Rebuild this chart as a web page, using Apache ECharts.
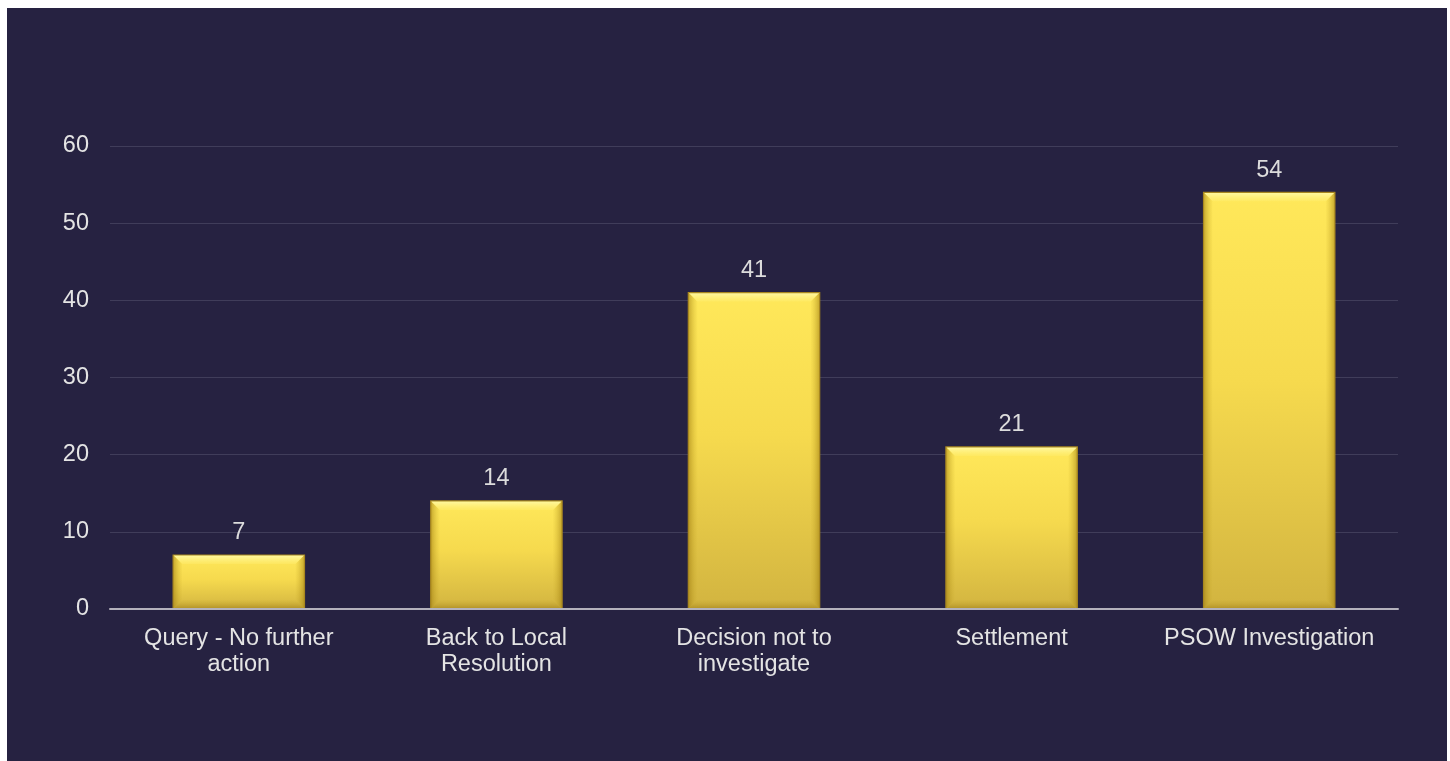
<!DOCTYPE html>
<html><head><meta charset="utf-8">
<script src="https://cdn.jsdelivr.net/npm/echarts@6/dist/echarts.min.js"></script>
<style>
html,body{margin:0;padding:0;background:#ffffff;width:1450px;height:761px;overflow:hidden;}
#c{position:absolute;left:7px;top:8px;width:1440px;height:753px;background:#262241;}
</style></head><body>
<div id="c"></div>
<script>
const categories = ['Query - No further\naction', 'Back to Local\nResolution', 'Decision not to\ninvestigate', 'Settlement', 'PSOW Investigation'];
const values = [7, 14, 41, 21, 54];
const yTicks = [0, 10, 20, 30, 40, 50, 60];

const FONT = 'Liberation Sans, Arial, sans-serif';
const BAR_RATIO = 0.51;
const chart = echarts.init(document.getElementById('c'));

function bevel(params, api) {
  const idx = api.value(0);
  const top = api.coord([idx, api.value(1)]);
  const base = api.coord([idx, 0]);
  const w = api.size([1, 0])[0] * BAR_RATIO;
  const x0 = top[0] - w / 2, x1 = top[0] + w / 2;
  const y0 = top[1], y1 = base[1];
  const b = Math.min(9, (y1 - y0) / 3);
  return {
    type: 'group',
    children: [
      {type: 'polygon', shape: {points: [[x0, y0], [x1, y0], [x1 - b, y0 + b], [x0 + b, y0 + b]]},
        style: {fill: new echarts.graphic.LinearGradient(0, 0, 0, 1, [
          {offset: 0, color: 'rgba(255,250,170,0.95)'}, {offset: 1, color: 'rgba(255,240,120,0.3)'}])}},
      {type: 'polygon', shape: {points: [[x0, y0], [x0 + b, y0 + b], [x0 + b, y1 - b], [x0, y1]]},
        style: {fill: new echarts.graphic.LinearGradient(0, 0, 1, 0, [
          {offset: 0, color: 'rgba(150,115,10,0.55)'}, {offset: 1, color: 'rgba(200,170,40,0.05)'}])}},
      {type: 'polygon', shape: {points: [[x1, y0], [x1 - b, y0 + b], [x1 - b, y1 - b], [x1, y1]]},
        style: {fill: new echarts.graphic.LinearGradient(1, 0, 0, 0, [
          {offset: 0, color: 'rgba(150,115,10,0.55)'}, {offset: 1, color: 'rgba(200,170,40,0.05)'}])}},
      {type: 'polygon', shape: {points: [[x0, y1], [x1, y1], [x1 - b, y1 - b], [x0 + b, y1 - b]]},
        style: {fill: new echarts.graphic.LinearGradient(0, 1, 0, 0, [
          {offset: 0, color: 'rgba(140,105,10,0.5)'}, {offset: 1, color: 'rgba(190,160,40,0.05)'}])}},
      {type: 'rect', shape: {x: x0, y: y0, width: w, height: y1 - y0},
        style: {fill: 'none', stroke: '#a8871f', lineWidth: 1.2}}
    ]
  };
}

chart.setOption({
  backgroundColor: '#262241',
  animation: false,
  grid: {left: 103, right: 49, top: 138, bottom: 152},
  xAxis: {
    type: 'category', data: categories, z: 5,
    axisLine: {lineStyle: {color: '#b4b2bc', width: 2}},
    axisTick: {show: false},
    axisLabel: {interval: 0, color: '#e4e4e4', fontSize: 23.5, fontFamily: FONT, lineHeight: 26, margin: 17}
  },
  yAxis: {
    type: 'value', min: yTicks[0], max: yTicks[yTicks.length-1], interval: 10,
    axisLine: {show: false}, axisTick: {show: false},
    axisLabel: {color: '#e4e4e4', fontSize: 23.5, fontFamily: FONT, margin: 21},
    splitLine: {lineStyle: {color: '#403d5a', width: 1}}
  },
  series: [{
    type: 'bar', data: values, barWidth: (BAR_RATIO * 100) + '%',
    itemStyle: {
      color: new echarts.graphic.LinearGradient(0, 0, 0, 1, [
        {offset: 0, color: '#ffe85a'},
        {offset: 0.45, color: '#f6da4e'},
        {offset: 1, color: '#d2b440'}
      ])
    },
    label: {show: true, position: 'top', distance: 10, color: '#dcdcdc', fontSize: 23.5, fontFamily: FONT}
  }, {
    type: 'custom', z: 3, silent: true,
    data: values.map((v, i) => [i, v]),
    encode: {x: 0, y: 1},
    renderItem: bevel
  }]
});
</script>
</body></html>
